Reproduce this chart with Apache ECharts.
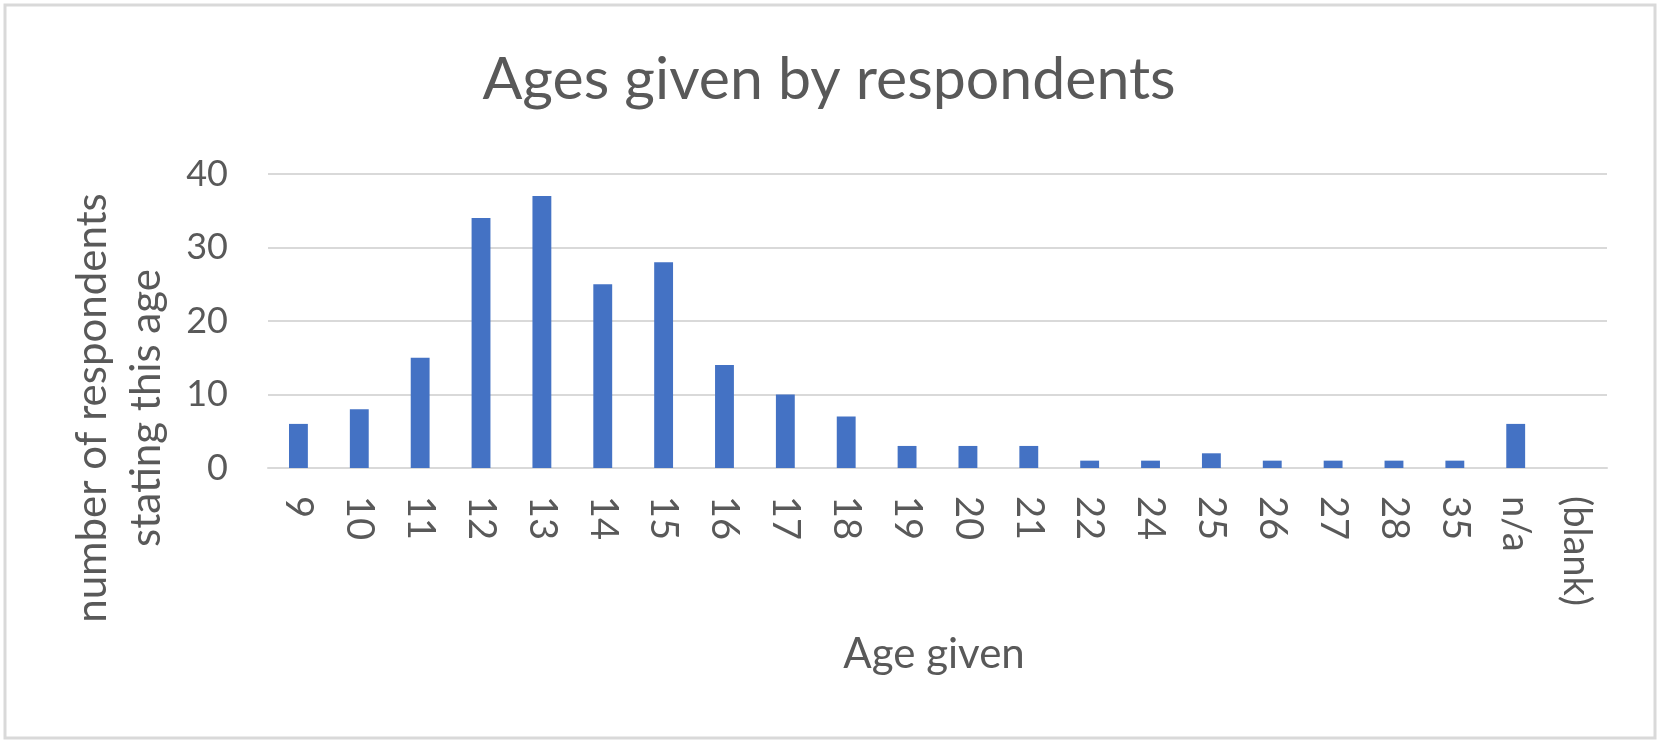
<!DOCTYPE html>
<html>
<head>
<meta charset="utf-8">
<script src="https://cdn.jsdelivr.net/npm/echarts@6/dist/echarts.min.js"></script>
<style>
  html, body { margin: 0; padding: 0; background: #ffffff; }
  #chart { width: 1663px; height: 747px; }
</style>
</head>
<body>
<div id="chart"></div>
<script>
const titleText = 'Ages given by respondents';
const xAxisTitle = 'Age given';
const yAxisTitle = 'number of respondents\nstating this age';
const categories = ['9','10','11','12','13','14','15','16','17','18','19','20','21','22','24','25','26','27','28','35','n/a','(blank)'];
const counts = [6, 8, 15, 34, 37, 25, 28, 14, 10, 7, 3, 3, 3, 1, 1, 2, 1, 1, 1, 1, 6, null];
const yTicks = { min: 0, max: 40, interval: 10 };

const FONT = 'Lato';
const TEXT = '#595959';
const chart = echarts.init(document.getElementById('chart'), null, { renderer: 'canvas' });
chart.setOption({
  backgroundColor: '#ffffff',
  animation: false,
  grid: { left: 268, right: 56, top: 174, bottom: 279, containLabel: false },
  xAxis: {
    type: 'category',
    data: categories,
    axisLine: { show: true, lineStyle: { color: '#d9d9d9', width: 2 } },
    axisTick: { show: false },
    axisLabel: { rotate: -90, margin: 28, color: TEXT, fontFamily: FONT, fontSize: 38, interval: 0 },
    splitLine: { show: false }
  },
  yAxis: {
    type: 'value',
    min: yTicks.min, max: yTicks.max, interval: yTicks.interval,
    axisLine: { show: false },
    axisTick: { show: false },
    axisLabel: { margin: 40, color: TEXT, fontFamily: FONT, fontSize: 36 },
    splitLine: { lineStyle: { color: '#d9d9d9', width: 2 } }
  },
  series: [{
    type: 'bar',
    data: counts,
    barWidth: '31%',
    itemStyle: { color: '#4472c4' }
  }],
  graphic: [
    { type: 'rect', shape: { x: 5, y: 5, width: 1650, height: 733 }, style: { fill: 'none', stroke: '#d9d9d9', lineWidth: 3 }, silent: true },
    { type: 'text', x: 829, y: 80, style: { text: titleText, fill: TEXT, font: '59px Lato', align: 'center', verticalAlign: 'middle' } },
    { type: 'text', x: 934, y: 654, style: { text: xAxisTitle, fill: TEXT, font: '42px Lato', align: 'center', verticalAlign: 'middle' } },
    { type: 'text', x: 119, y: 408, rotation: Math.PI / 2, style: { text: yAxisTitle, fill: TEXT, font: '42px Lato', lineHeight: 54, align: 'center', verticalAlign: 'middle' } }
  ]
});
</script>
</body>
</html>
